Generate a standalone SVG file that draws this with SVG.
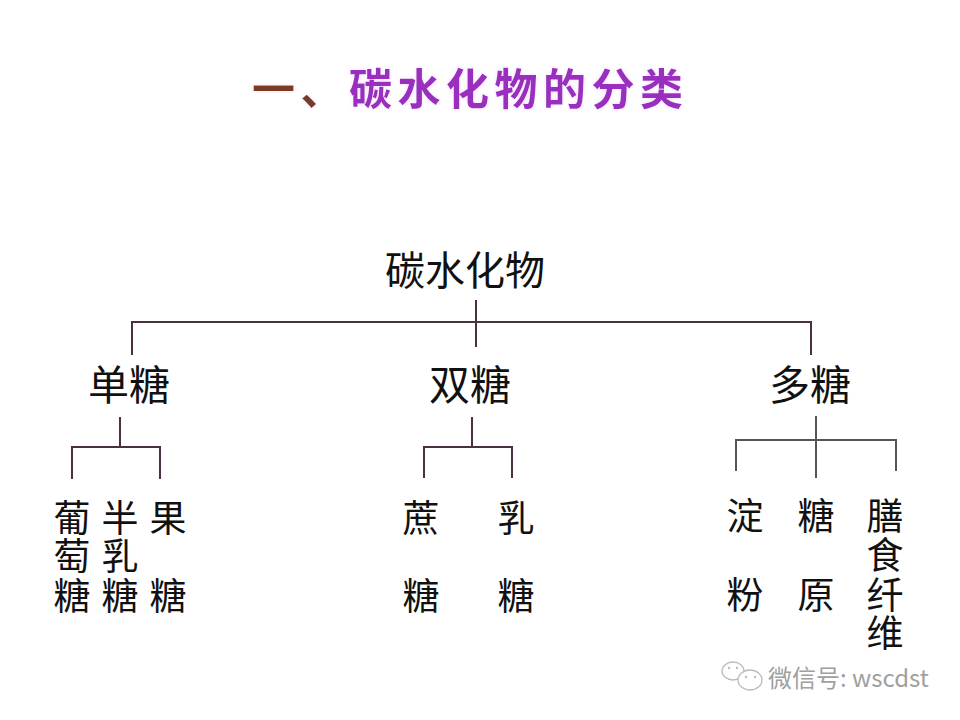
<svg xmlns="http://www.w3.org/2000/svg" width="960" height="720" viewBox="0 0 960 720">
<style>
text{font-family:"Noto Sans CJK SC","Noto Sans",sans-serif;fill:#111}
.title{font-size:43px;font-weight:bold}
.root{font-size:40px}
.lbl{font-size:41px;text-anchor:middle}
.leaf{font-size:37px;text-anchor:middle}
.ln{stroke:#4a3040;stroke-width:2;fill:none}
.ln2{stroke:#555;stroke-width:2;fill:none}
.wm{stroke:#bbb;stroke-width:1.3;fill:#fff}
</style>
<defs>
<filter id="glow" x="-10%" y="-30%" width="120%" height="160%">
<feGaussianBlur in="SourceAlpha" stdDeviation="2"/>
<feColorMatrix values="0 0 0 0 0.85  0 0 0 0 0.6  0 0 0 0 0.95  0 0 0 0.6 0"/>
<feMerge><feMergeNode/><feMergeNode in="SourceGraphic"/></feMerge>
</filter>
</defs>
<rect width="960" height="720" fill="#fff"/>
<g id="title" filter="url(#glow)">
<text class="title" x="252" y="105" textLength="431" lengthAdjust="spacing"><tspan fill="#7a3a22">一、</tspan><tspan fill="#9a2fbf">碳水化物的分类</tspan></text>
</g>
<g id="connectors">
<path class="ln" d="M476,300V347M132,355V322H811V355"/>
<path class="ln" d="M120,417V447M72,479V447H160V479"/>
<path class="ln" d="M472,417V447M424,478V447H512V478"/>
<path class="ln2" d="M816,416V478M736,471V440H896V471"/>
</g>
<g id="root"><text class="root" x="385" y="285">碳水化物</text></g>
<g id="mono"><text class="lbl" x="129" y="400">单糖</text></g>
<g id="di"><text class="lbl" x="470" y="400">双糖</text></g>
<g id="poly"><text class="lbl" x="810" y="400">多糖</text></g>
<g id="glucose"><text class="leaf" x="72" y="532">葡<tspan x="72" y="570">萄</tspan><tspan x="72" y="610">糖</tspan></text></g>
<g id="galactose"><text class="leaf" x="120" y="532">半<tspan x="120" y="570">乳</tspan><tspan x="120" y="610">糖</tspan></text></g>
<g id="fructose"><text class="leaf" x="168" y="532">果<tspan x="168" y="610">糖</tspan></text></g>
<g id="sucrose"><text class="leaf" x="421" y="532">蔗<tspan x="421" y="610">糖</tspan></text></g>
<g id="lactose"><text class="leaf" x="516" y="532">乳<tspan x="516" y="610">糖</tspan></text></g>
<g id="starch"><text class="leaf" x="745" y="530">淀<tspan x="745" y="609">粉</tspan></text></g>
<g id="glycogen"><text class="leaf" x="816" y="530">糖<tspan x="816" y="609">原</tspan></text></g>
<g id="fiber"><text class="leaf" x="885" y="530">膳<tspan x="885" y="569">食</tspan><tspan x="885" y="609">纤</tspan><tspan x="885" y="647">维</tspan></text></g>
<g id="watermark">
<ellipse class="wm" cx="733" cy="671" rx="11" ry="9"/>
<ellipse class="wm" cx="750" cy="680" rx="12" ry="10"/>
<circle cx="729" cy="668" r="1.2" fill="#bbb"/><circle cx="737" cy="668" r="1.2" fill="#bbb"/>
<circle cx="746" cy="677" r="1.2" fill="#bbb"/><circle cx="755" cy="677" r="1.2" fill="#bbb"/>
<text x="768" y="687" style="font-size:24px;fill:#a0a0a0">微信号: wscdst</text>
</g>
</svg>
